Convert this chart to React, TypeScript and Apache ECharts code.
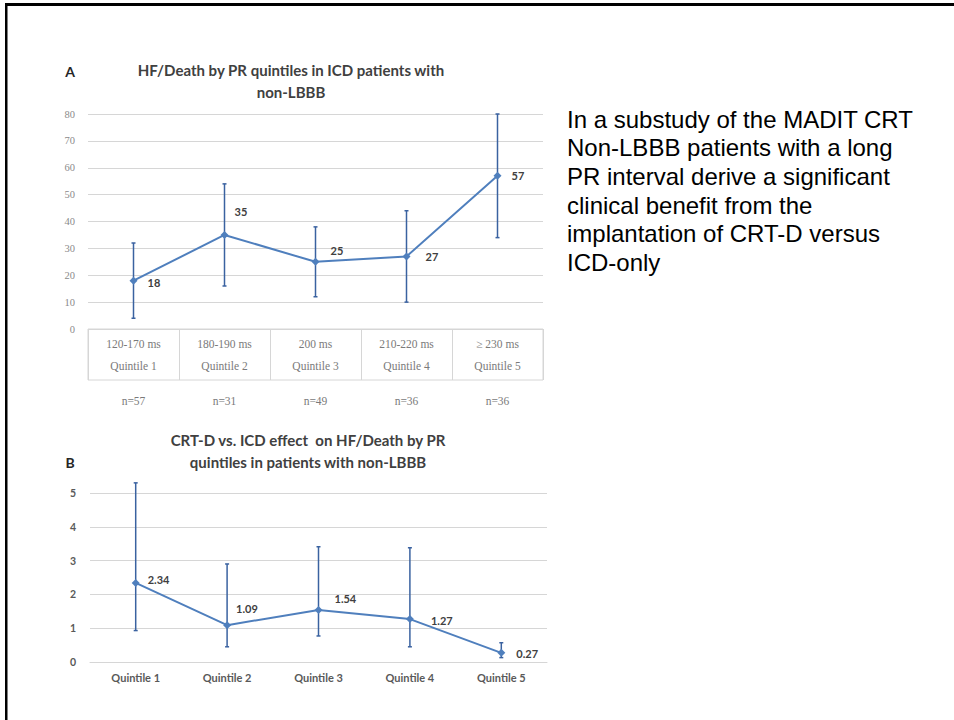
import React, { useEffect, useRef } from "react";
import * as echarts from "echarts";

// Panel A: HF/Death by PR quintile in ICD patients (non-LBBB)
const rangesA = ["120-170 ms", "180-190 ms", "200 ms", "210-220 ms", "≥ 230 ms"];
const quintilesA = ["Quintile 1", "Quintile 2", "Quintile 3", "Quintile 4", "Quintile 5"];
const countsA = ["n=57", "n=31", "n=49", "n=36", "n=36"];
const valuesA = [18, 35, 25, 27, 57];
const lowA = [4, 16, 12, 10, 34];
const highA = [32, 54, 38, 44, 80];

// Panel B: CRT-D vs. ICD effect by PR quintile
const quintilesB = ["Quintile 1", "Quintile 2", "Quintile 3", "Quintile 4", "Quintile 5"];
const valuesB = [2.34, 1.09, 1.54, 1.27, 0.27];
const lowB = [0.93, 0.45, 0.77, 0.45, 0.13];
const highB = [5.3, 2.9, 3.41, 3.38, 0.57];

// label nudges (pixels) for the value labels next to each marker
const labelNudgeA = [[10, 2], [6, -23], [11, -11], [15, 0], [10, 0]];
const labelNudgeB = [[8, -3], [5, -17], [12, -11], [17, 1], [11, 1]];

const noteLines = [
  "In a substudy of the MADIT CRT",
  "Non-LBBB patients with a long",
  "PR interval derive a significant",
  "clinical benefit from the",
  "implantation of CRT-D versus",
  "ICD-only",
];

const FONT = "Lato";
const LINE = "#4f7fbd";
const BAR = "#3a62a0";
const GRID = "#d6d6d6";

function errorBars(low: number[], high: number[], xAxisIndex: number, yAxisIndex: number) {
  return {
    type: "custom",
    xAxisIndex,
    yAxisIndex,
    clip: false,
    z: 2,
    silent: true,
    encode: { x: 0, y: [1, 2] },
    data: low.map((l, i) => [i, l, high[i]]),
    renderItem: (_p: any, api: any) => {
      const lo = api.coord([api.value(0), api.value(1)]);
      const hi = api.coord([api.value(0), api.value(2)]);
      const style = { stroke: BAR, lineWidth: 1.5 };
      return {
        type: "group",
        children: [
          { type: "line", shape: { x1: lo[0], y1: lo[1], x2: hi[0], y2: hi[1] }, style },
          { type: "line", shape: { x1: lo[0] - 2, y1: lo[1], x2: lo[0] + 2, y2: lo[1] }, style },
          { type: "line", shape: { x1: hi[0] - 2, y1: hi[1], x2: hi[0] + 2, y2: hi[1] }, style },
        ],
      };
    },
  };
}

function lineSeries(values: number[], nudge: number[][], xAxisIndex: number, yAxisIndex: number) {
  return {
    type: "line",
    xAxisIndex,
    yAxisIndex,
    z: 3,
    symbol: "diamond",
    symbolSize: 8,
    lineStyle: { color: LINE, width: 2 },
    itemStyle: { color: LINE },
    data: values.map((v, i) => ({
      value: v,
      label: { offset: nudge[i] },
    })),
    label: {
      show: true,
      position: "right",
      distance: 0,
      fontFamily: FONT,
      fontWeight: "bold",
      fontSize: 11,
      color: "#404040",
    },
  };
}

export default function App() {
  const ref = useRef<HTMLDivElement>(null);

  useEffect(() => {
    if (!ref.current) return;
    const chart = echarts.init(ref.current, undefined, { renderer: "svg" });

    chart.setOption({
      animation: false,
      backgroundColor: "#ffffff",
      textStyle: { fontFamily: FONT },
      grid: [
        { left: 88, top: 114, width: 455, height: 215 },
        {
          left: 88,
          top: 329,
          width: 455,
          height: 51,
          show: true,
          borderColor: GRID,
          borderWidth: 1,
        },
        { left: 90, top: 493, width: 457, height: 169 },
      ],
      xAxis: [
        {
          gridIndex: 0,
          type: "category",
          data: rangesA.map((r, i) => r + "\n" + quintilesA[i]),
          boundaryGap: true,
          axisLine: { show: false },
          axisTick: { show: false },
          axisLabel: {
            margin: 4,
            color: "#7a7a7a",
            fontSize: 11.5,
            lineHeight: 22,
            fontFamily: "Liberation Serif",
          },
        },
        {
          gridIndex: 1,
          type: "category",
          data: countsA,
          boundaryGap: true,
          axisLine: { show: false },
          axisTick: { show: false },
          splitLine: { show: true, lineStyle: { color: GRID, width: 1 } },
          axisLabel: {
            margin: 15,
            color: "#7a7a7a",
            fontSize: 11.5,
            fontFamily: "Liberation Serif",
          },
        },
        {
          gridIndex: 2,
          type: "category",
          data: quintilesB,
          boundaryGap: true,
          axisLine: { show: true, lineStyle: { color: GRID, width: 1 } },
          axisTick: { show: false },
          axisLabel: {
            margin: 10,
            color: "#595959",
            fontSize: 11,
            fontWeight: "bold",
          },
        },
      ],
      yAxis: [
        {
          gridIndex: 0,
          type: "value",
          min: 0,
          max: 80,
          interval: 10,
          axisLine: { show: false },
          axisTick: { show: false },
          splitLine: { lineStyle: { color: GRID, width: 1 } },
          axisLabel: { margin: 13, color: "#8a8a8a", fontSize: 10.5, fontFamily: "Liberation Serif" },
        },
        {
          gridIndex: 1,
          type: "value",
          show: false,
          splitLine: { show: false },
        },
        {
          gridIndex: 2,
          type: "value",
          min: 0,
          max: 5,
          interval: 1,
          axisLine: { show: false },
          axisTick: { show: false },
          splitLine: { lineStyle: { color: GRID, width: 1 } },
          axisLabel: { margin: 14, color: "#595959", fontSize: 10.5, fontWeight: "bold" },
        },
      ],
      graphic: [
        // slide frame
        { type: "rect", shape: { x: 5, y: 3, width: 949, height: 3 }, style: { fill: "#000" } },
        { type: "rect", shape: { x: 5, y: 3, width: 2.5, height: 717 }, style: { fill: "#000" } },
        // panel letters
        {
          type: "text",
          x: 70,
          y: 71,
          style: { text: "A", font: `bold 14px ${FONT}`, fill: "#262626", align: "center", verticalAlign: "middle" },
        },
        {
          type: "text",
          x: 70,
          y: 462,
          style: { text: "B", font: `bold 14px ${FONT}`, fill: "#262626", align: "center", verticalAlign: "middle" },
        },
        // panel titles
        {
          type: "text",
          x: 291,
          y: 81,
          style: {
            text: "HF/Death by PR quintiles in ICD patients with\nnon-LBBB",
            font: `bold 15px ${FONT}`,
            lineHeight: 22,
            fill: "#404040",
            align: "center",
            verticalAlign: "middle",
          },
        },
        {
          type: "text",
          x: 308,
          y: 451,
          style: {
            text: "CRT-D vs. ICD effect  on HF/Death by PR\nquintiles in patients with non-LBBB",
            font: `bold 15px ${FONT}`,
            lineHeight: 22,
            fill: "#404040",
            align: "center",
            verticalAlign: "middle",
          },
        },
        // note beside the charts
        {
          type: "text",
          x: 567,
          y: 105,
          style: {
            text: noteLines.join("\n"),
            font: `24px "Liberation Sans"`,
            lineHeight: 28.6,
            fill: "#000000",
            align: "left",
            verticalAlign: "top",
          },
        },
      ],
      series: [
        errorBars(lowA, highA, 0, 0),
        lineSeries(valuesA, labelNudgeA, 0, 0),
        errorBars(lowB, highB, 2, 2),
        lineSeries(valuesB, labelNudgeB, 2, 2),
      ],
    });

    return () => chart.dispose();
  }, []);

  return (
    <div
      ref={ref}
      style={{ position: "fixed", left: 0, top: 0, width: 954, height: 720, background: "#fff" }}
    />
  );
}
